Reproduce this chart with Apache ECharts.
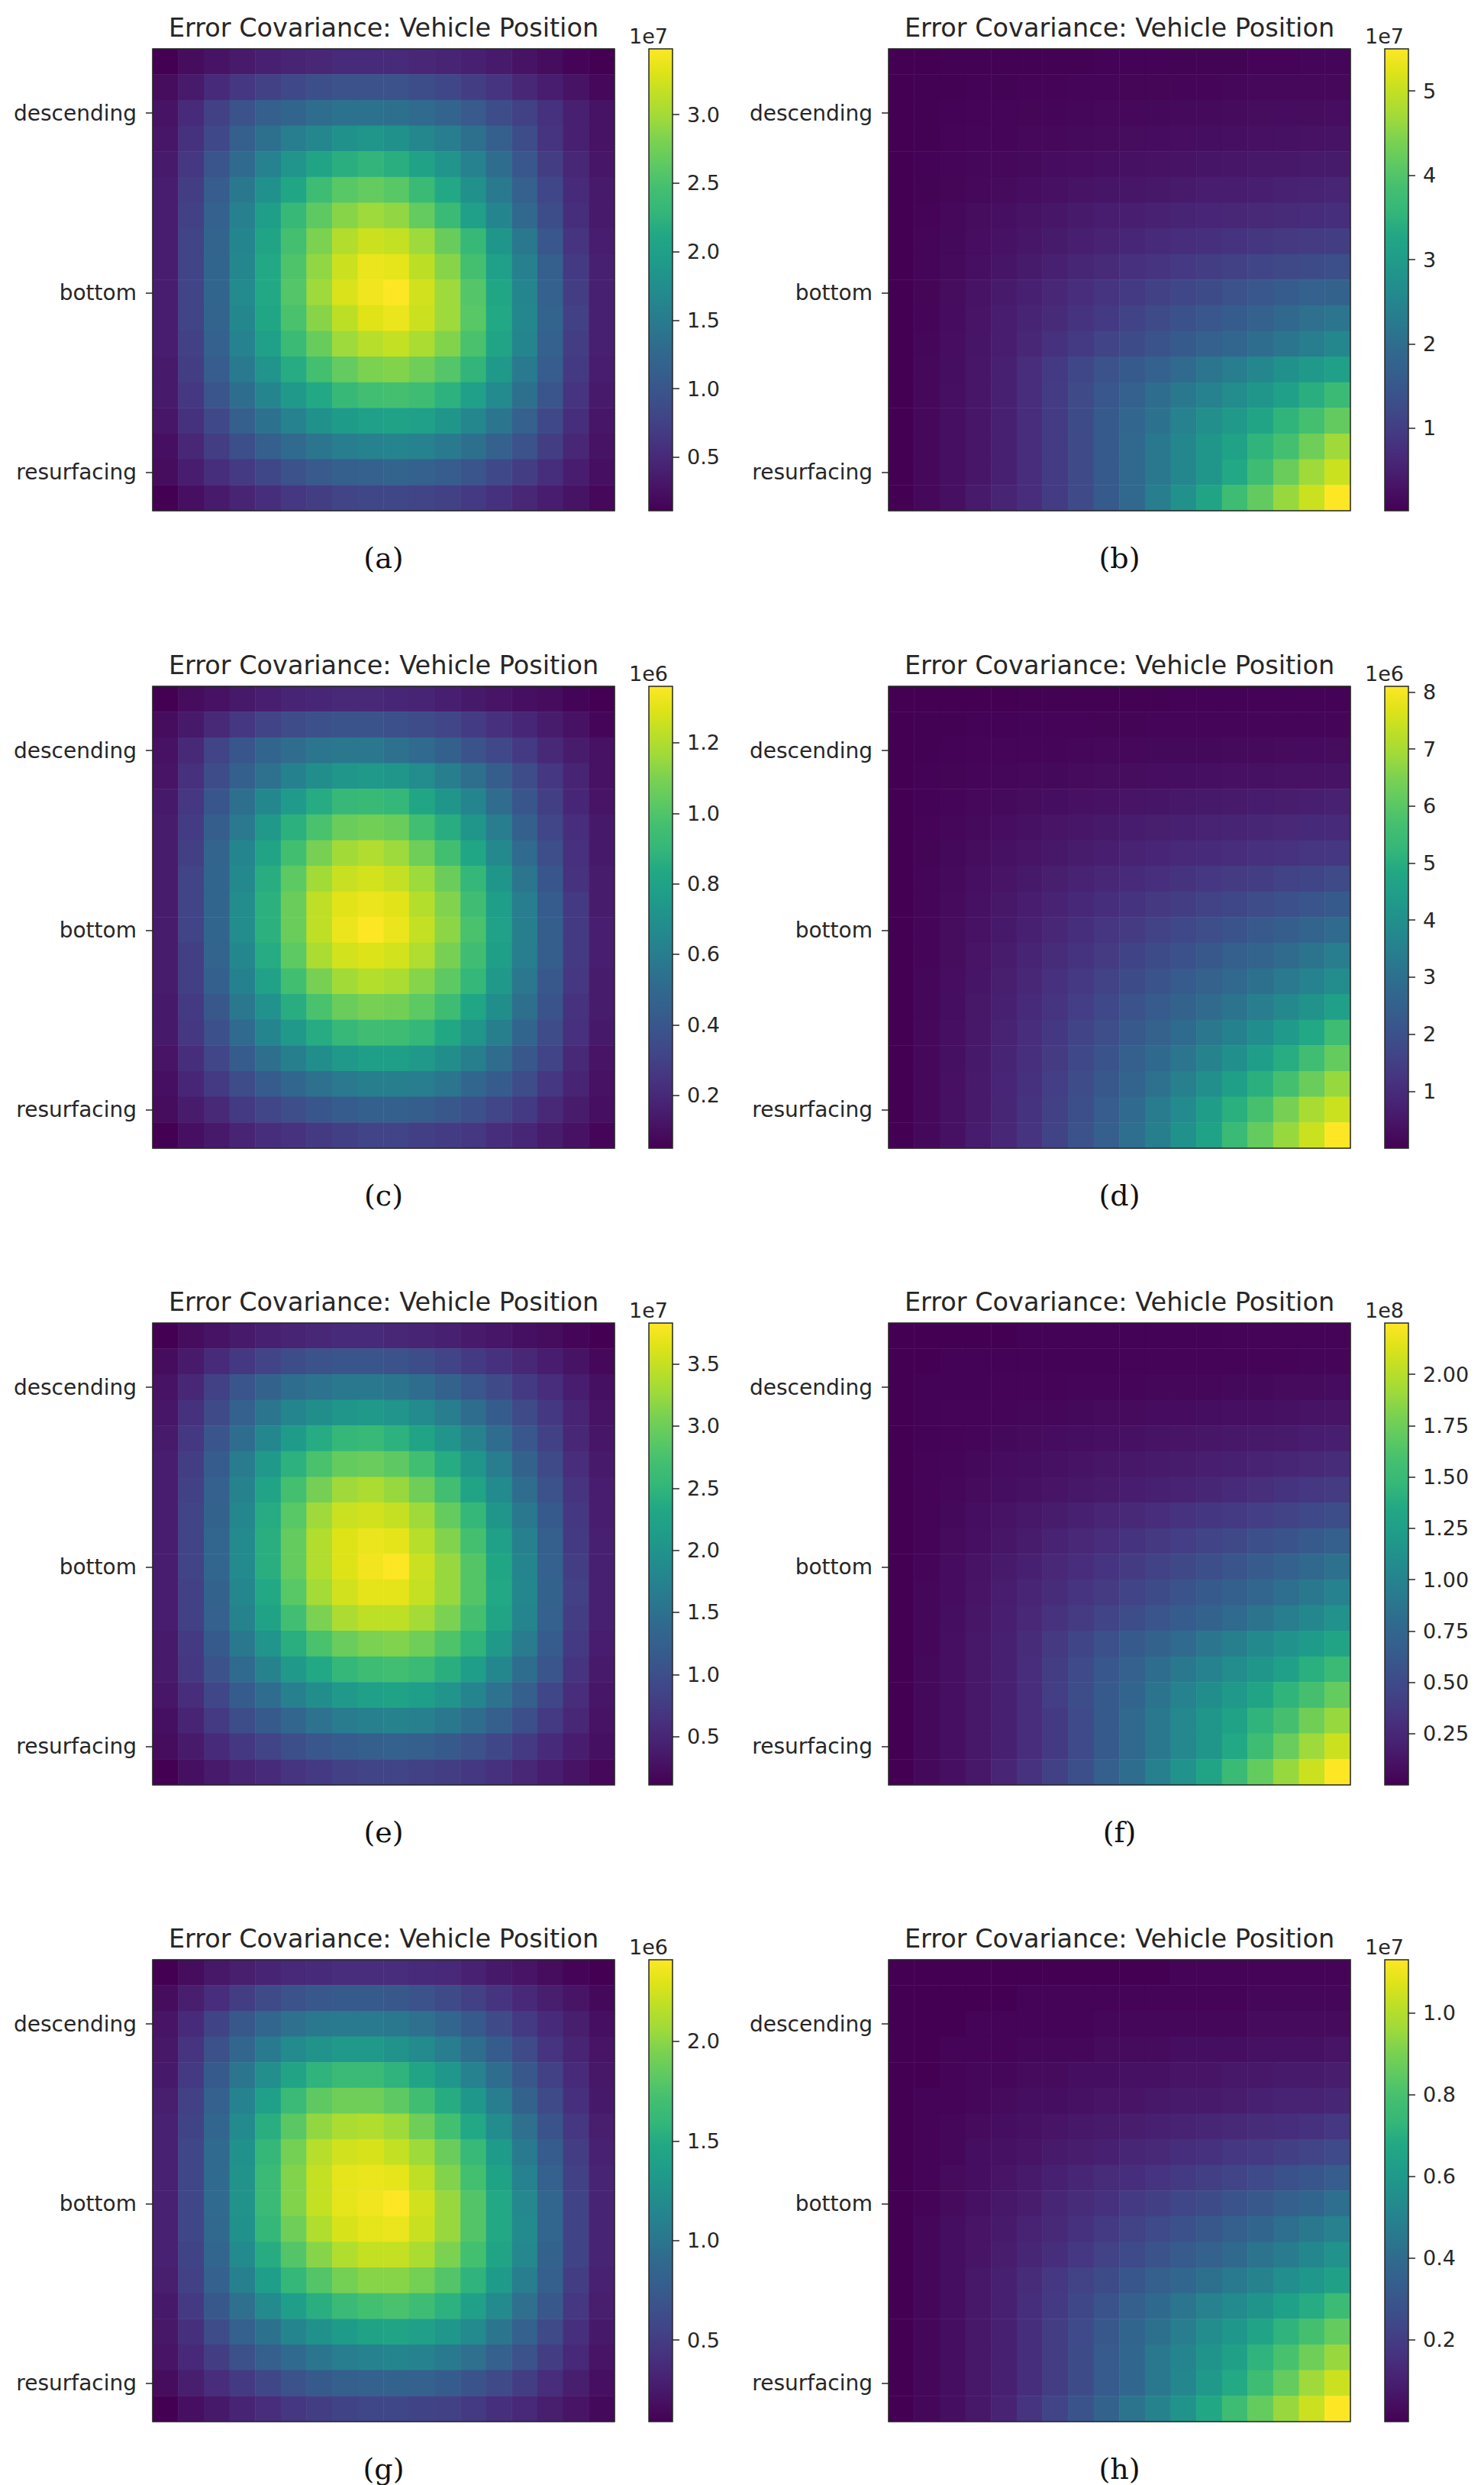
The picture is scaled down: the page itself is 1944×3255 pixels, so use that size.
<!DOCTYPE html>
<html>
<head>
<meta charset="utf-8">
<script src="https://cdn.jsdelivr.net/npm/echarts@6/dist/echarts.min.js"></script>
<style>
html,body{margin:0;padding:0;background:#ffffff;}
#chart{width:1944px;height:3255px;}
</style>
</head>
<body>
<div id="chart"></div>
<script>
// ---------------- data (values in units of the colour-bar exponent) ----------------
const panelTitle = 'Error Covariance: Vehicle Position';
const captions = ['(a)', '(b)', '(c)', '(d)', '(e)', '(f)', '(g)', '(h)'];
const exponents = ['1e7', '1e7', '1e6', '1e6', '1e7', '1e8', '1e6', '1e7'];
const yTickRows = [2, 9, 16];
const yTickLabels = ['descending', 'bottom', 'resurfacing'];

const cbTicksA = ['0.5', '1.0', '1.5', '2.0', '2.5', '3.0'];
const cbTicksB = ['1', '2', '3', '4', '5'];
const cbTicksC = ['0.2', '0.4', '0.6', '0.8', '1.0', '1.2'];
const cbTicksD = ['1', '2', '3', '4', '5', '6', '7', '8'];
const cbTicksE = ['0.5', '1.0', '1.5', '2.0', '2.5', '3.0', '3.5'];
const cbTicksF = ['0.25', '0.50', '0.75', '1.00', '1.25', '1.50', '1.75', '2.00'];
const cbTicksG = ['0.5', '1.0', '1.5', '2.0'];
const cbTicksH = ['0.2', '0.4', '0.6', '0.8', '1.0'];

const covA = [
[0.11,0.21,0.28,0.35,0.41,0.45,0.48,0.51,0.51,0.51,0.48,0.45,0.41,0.35,0.28,0.21,0.14,0.11],
[0.21,0.35,0.51,0.65,0.75,0.85,0.92,0.95,0.95,0.95,0.89,0.82,0.72,0.62,0.48,0.38,0.28,0.18],
[0.28,0.51,0.75,0.95,1.12,1.22,1.32,1.39,1.39,1.36,1.29,1.19,1.05,0.89,0.75,0.58,0.41,0.28],
[0.31,0.58,0.85,1.12,1.36,1.53,1.66,1.80,1.86,1.80,1.66,1.53,1.36,1.12,0.89,0.62,0.41,0.28],
[0.35,0.65,0.99,1.29,1.59,1.83,2.06,2.20,2.27,2.20,2.03,1.83,1.59,1.32,1.02,0.72,0.48,0.31],
[0.38,0.72,1.09,1.46,1.80,2.10,2.40,2.60,2.67,2.60,2.37,2.13,1.80,1.49,1.15,0.82,0.51,0.35],
[0.38,0.75,1.15,1.56,1.96,2.33,2.64,2.87,2.97,2.91,2.67,2.37,2.00,1.63,1.26,0.89,0.55,0.35],
[0.38,0.78,1.19,1.63,2.06,2.47,2.81,3.08,3.21,3.18,2.97,2.70,2.33,1.86,1.46,1.02,0.62,0.38],
[0.38,0.78,1.22,1.66,2.13,2.54,2.91,3.21,3.38,3.35,3.14,2.87,2.47,2.00,1.56,1.12,0.68,0.41],
[0.38,0.78,1.22,1.69,2.13,2.57,2.97,3.28,3.41,3.48,3.24,2.97,2.57,2.10,1.63,1.15,0.72,0.41],
[0.38,0.78,1.19,1.66,2.10,2.50,2.87,3.14,3.31,3.38,3.21,2.97,2.60,2.13,1.66,1.19,0.75,0.41],
[0.38,0.75,1.15,1.59,2.00,2.37,2.70,2.97,3.11,3.18,3.04,2.84,2.50,2.06,1.63,1.15,0.72,0.41],
[0.35,0.72,1.09,1.49,1.83,2.17,2.47,2.67,2.81,2.84,2.74,2.57,2.27,1.90,1.49,1.09,0.68,0.38],
[0.35,0.65,0.99,1.32,1.63,1.90,2.13,2.33,2.44,2.47,2.40,2.23,2.00,1.69,1.36,0.99,0.62,0.35],
[0.31,0.58,0.85,1.12,1.39,1.59,1.80,1.93,2.00,2.03,2.00,1.86,1.66,1.42,1.15,0.85,0.55,0.31],
[0.24,0.48,0.72,0.92,1.12,1.29,1.42,1.53,1.59,1.63,1.59,1.49,1.36,1.15,0.95,0.72,0.48,0.28],
[0.21,0.38,0.55,0.68,0.82,0.95,1.05,1.12,1.15,1.19,1.15,1.09,0.99,0.85,0.72,0.55,0.38,0.24],
[0.11,0.24,0.35,0.45,0.55,0.65,0.72,0.78,0.82,0.82,0.78,0.75,0.68,0.58,0.48,0.38,0.28,0.18]
];

const covB = [
[0.02,0.02,0.03,0.03,0.03,0.04,0.04,0.04,0.05,0.05,0.05,0.06,0.06,0.06,0.07,0.07,0.08,0.08],
[0.02,0.03,0.04,0.05,0.06,0.07,0.07,0.08,0.08,0.09,0.09,0.10,0.10,0.11,0.12,0.12,0.13,0.13],
[0.02,0.04,0.05,0.07,0.08,0.09,0.10,0.11,0.12,0.13,0.14,0.15,0.16,0.17,0.18,0.19,0.20,0.21],
[0.02,0.04,0.07,0.08,0.10,0.12,0.13,0.15,0.17,0.18,0.19,0.21,0.22,0.24,0.25,0.26,0.28,0.29],
[0.02,0.05,0.08,0.11,0.13,0.16,0.19,0.21,0.24,0.26,0.28,0.30,0.32,0.34,0.36,0.38,0.40,0.42],
[0.02,0.06,0.09,0.13,0.17,0.21,0.25,0.29,0.32,0.35,0.38,0.41,0.44,0.46,0.49,0.52,0.55,0.58],
[0.02,0.07,0.13,0.18,0.24,0.29,0.35,0.40,0.44,0.48,0.52,0.56,0.59,0.62,0.65,0.68,0.71,0.74],
[0.02,0.08,0.14,0.21,0.28,0.35,0.42,0.49,0.55,0.61,0.67,0.73,0.78,0.83,0.88,0.92,0.96,1.01],
[0.02,0.08,0.16,0.24,0.33,0.42,0.51,0.60,0.68,0.77,0.85,0.93,1.00,1.07,1.14,1.21,1.28,1.34],
[0.02,0.09,0.18,0.29,0.40,0.51,0.62,0.73,0.84,0.95,1.06,1.17,1.28,1.39,1.50,1.61,1.72,1.77],
[0.02,0.10,0.19,0.31,0.44,0.57,0.68,0.82,0.95,1.10,1.23,1.37,1.50,1.61,1.72,1.88,2.05,2.16],
[0.02,0.11,0.21,0.33,0.46,0.62,0.79,0.95,1.12,1.28,1.44,1.55,1.72,1.83,1.99,2.16,2.32,2.54],
[0.02,0.12,0.22,0.35,0.51,0.73,0.95,1.17,1.39,1.55,1.72,1.94,2.16,2.32,2.54,2.76,2.92,3.09],
[0.02,0.12,0.23,0.35,0.51,0.73,0.98,1.23,1.50,1.72,1.99,2.21,2.43,2.65,2.87,3.09,3.42,3.69],
[0.02,0.13,0.24,0.35,0.51,0.73,0.98,1.28,1.55,1.83,2.10,2.43,2.71,2.92,3.20,3.53,3.86,4.18],
[0.02,0.13,0.24,0.35,0.51,0.73,0.98,1.23,1.55,1.88,2.21,2.54,2.87,3.14,3.53,3.86,4.29,4.68],
[0.02,0.13,0.24,0.35,0.51,0.73,0.98,1.23,1.55,1.88,2.21,2.54,2.87,3.31,3.75,4.24,4.68,5.06],
[0.02,0.13,0.24,0.40,0.57,0.73,0.98,1.23,1.55,1.88,2.32,2.76,3.20,3.75,4.18,4.62,5.06,5.50]
];

const covC = [
[0.05,0.09,0.11,0.14,0.16,0.18,0.19,0.20,0.20,0.19,0.18,0.16,0.14,0.12,0.10,0.09,0.06,0.05],
[0.09,0.14,0.20,0.26,0.31,0.35,0.37,0.39,0.39,0.37,0.35,0.32,0.28,0.23,0.19,0.15,0.11,0.07],
[0.11,0.20,0.31,0.40,0.48,0.52,0.56,0.57,0.57,0.54,0.51,0.45,0.39,0.33,0.27,0.20,0.15,0.11],
[0.12,0.23,0.35,0.45,0.54,0.62,0.69,0.73,0.74,0.73,0.68,0.61,0.53,0.44,0.35,0.26,0.18,0.11],
[0.14,0.26,0.40,0.53,0.65,0.75,0.85,0.91,0.92,0.90,0.82,0.73,0.64,0.52,0.40,0.29,0.19,0.12],
[0.15,0.28,0.44,0.58,0.74,0.87,0.98,1.06,1.08,1.06,0.96,0.86,0.73,0.60,0.45,0.32,0.22,0.14],
[0.15,0.29,0.47,0.64,0.81,0.96,1.09,1.17,1.20,1.16,1.07,0.96,0.82,0.66,0.51,0.36,0.23,0.14],
[0.15,0.31,0.48,0.66,0.86,1.03,1.17,1.25,1.27,1.24,1.16,1.06,0.90,0.73,0.56,0.40,0.24,0.15],
[0.15,0.31,0.48,0.68,0.87,1.06,1.23,1.30,1.32,1.30,1.21,1.11,0.95,0.77,0.60,0.43,0.27,0.15],
[0.15,0.31,0.48,0.68,0.87,1.06,1.23,1.32,1.36,1.32,1.24,1.13,0.98,0.79,0.61,0.44,0.27,0.16],
[0.15,0.29,0.47,0.65,0.85,1.03,1.19,1.27,1.29,1.27,1.20,1.09,0.95,0.78,0.60,0.44,0.27,0.16],
[0.15,0.29,0.45,0.62,0.79,0.96,1.09,1.17,1.21,1.19,1.12,1.03,0.90,0.74,0.57,0.41,0.26,0.15],
[0.14,0.27,0.41,0.57,0.71,0.86,0.98,1.06,1.09,1.08,1.03,0.94,0.82,0.69,0.53,0.39,0.24,0.15],
[0.14,0.26,0.37,0.51,0.64,0.74,0.85,0.91,0.95,0.94,0.90,0.83,0.73,0.61,0.48,0.35,0.23,0.14],
[0.12,0.22,0.32,0.43,0.53,0.61,0.69,0.74,0.78,0.78,0.74,0.69,0.61,0.52,0.41,0.31,0.20,0.12],
[0.10,0.19,0.27,0.35,0.43,0.49,0.54,0.58,0.61,0.61,0.60,0.56,0.49,0.43,0.35,0.26,0.18,0.11],
[0.09,0.15,0.20,0.27,0.32,0.36,0.40,0.43,0.45,0.45,0.44,0.41,0.37,0.32,0.27,0.20,0.15,0.10],
[0.05,0.10,0.14,0.18,0.22,0.24,0.27,0.29,0.31,0.31,0.29,0.28,0.26,0.22,0.19,0.15,0.11,0.07]
];

const covD = [
[0.00,0.01,0.01,0.01,0.01,0.02,0.02,0.02,0.03,0.03,0.03,0.04,0.04,0.04,0.04,0.05,0.05,0.05],
[0.00,0.02,0.03,0.04,0.05,0.06,0.07,0.07,0.08,0.08,0.09,0.09,0.10,0.10,0.11,0.11,0.12,0.12],
[0.00,0.03,0.05,0.07,0.09,0.11,0.12,0.13,0.15,0.16,0.17,0.18,0.19,0.20,0.21,0.22,0.23,0.24],
[0.00,0.04,0.08,0.10,0.14,0.16,0.19,0.22,0.24,0.26,0.28,0.30,0.32,0.34,0.36,0.37,0.39,0.41],
[0.00,0.05,0.10,0.15,0.20,0.25,0.30,0.34,0.38,0.42,0.46,0.50,0.54,0.57,0.60,0.64,0.68,0.73],
[0.00,0.07,0.14,0.21,0.28,0.35,0.42,0.48,0.54,0.60,0.66,0.72,0.77,0.82,0.86,0.90,0.94,0.97],
[0.00,0.08,0.17,0.26,0.35,0.44,0.53,0.61,0.69,0.77,0.84,0.91,0.98,1.05,1.11,1.17,1.23,1.30],
[0.00,0.09,0.20,0.31,0.42,0.54,0.66,0.77,0.88,0.99,1.09,1.19,1.29,1.38,1.47,1.56,1.66,1.78],
[0.00,0.10,0.22,0.35,0.49,0.63,0.78,0.92,1.06,1.20,1.33,1.46,1.59,1.72,1.85,1.98,2.12,2.27],
[0.00,0.11,0.24,0.39,0.55,0.72,0.89,1.06,1.23,1.40,1.57,1.74,1.90,2.06,2.23,2.40,2.60,2.84],
[0.00,0.12,0.26,0.43,0.61,0.80,1.00,1.20,1.40,1.60,1.81,2.01,2.21,2.42,2.63,2.86,3.12,3.40],
[0.00,0.13,0.28,0.46,0.66,0.88,1.11,1.34,1.57,1.81,2.05,2.29,2.53,2.77,3.01,3.27,3.56,3.89],
[0.00,0.14,0.30,0.49,0.71,0.96,1.22,1.48,1.75,2.02,2.29,2.57,2.85,3.13,3.43,3.75,4.12,4.54],
[0.00,0.15,0.32,0.52,0.76,1.03,1.32,1.61,1.92,2.23,2.55,2.87,3.20,3.53,3.90,4.33,4.86,5.51],
[0.00,0.16,0.33,0.55,0.80,1.09,1.40,1.73,2.07,2.43,2.80,3.18,3.58,4.00,4.46,4.98,5.56,6.16],
[0.00,0.16,0.34,0.57,0.83,1.14,1.48,1.84,2.22,2.62,3.05,3.50,3.98,4.50,5.06,5.67,6.24,6.80],
[0.00,0.16,0.35,0.58,0.86,1.18,1.54,1.94,2.37,2.83,3.32,3.85,4.42,5.04,5.72,6.44,7.02,7.45],
[0.00,0.17,0.36,0.60,0.89,1.22,1.60,2.02,2.47,2.95,3.45,4.05,4.62,5.43,6.16,6.80,7.45,8.10]
];

const covE = [
[0.11,0.22,0.30,0.37,0.44,0.48,0.52,0.56,0.56,0.52,0.48,0.44,0.37,0.33,0.26,0.22,0.15,0.11],
[0.22,0.37,0.56,0.71,0.85,0.97,1.04,1.08,1.08,1.04,0.97,0.85,0.74,0.63,0.52,0.41,0.30,0.18],
[0.30,0.52,0.82,1.08,1.30,1.45,1.52,1.60,1.60,1.56,1.45,1.30,1.11,0.93,0.74,0.59,0.41,0.26],
[0.33,0.63,0.93,1.26,1.56,1.78,1.93,2.04,2.08,2.01,1.86,1.67,1.45,1.19,0.93,0.71,0.48,0.30],
[0.37,0.71,1.08,1.45,1.82,2.12,2.38,2.53,2.57,2.45,2.27,2.01,1.75,1.45,1.11,0.82,0.52,0.33],
[0.41,0.78,1.19,1.64,2.08,2.45,2.75,2.94,2.97,2.90,2.68,2.38,2.04,1.67,1.30,0.93,0.59,0.37],
[0.41,0.82,1.26,1.75,2.27,2.71,3.05,3.27,3.35,3.23,3.01,2.68,2.27,1.86,1.45,1.04,0.67,0.41],
[0.41,0.85,1.30,1.82,2.38,2.86,3.27,3.53,3.57,3.50,3.27,2.94,2.53,2.04,1.60,1.15,0.71,0.41],
[0.41,0.85,1.34,1.86,2.42,2.94,3.38,3.64,3.72,3.68,3.42,3.12,2.71,2.19,1.71,1.23,0.74,0.44],
[0.41,0.85,1.34,1.86,2.42,2.94,3.38,3.64,3.76,3.83,3.53,3.23,2.83,2.30,1.78,1.26,0.78,0.44],
[0.41,0.82,1.30,1.82,2.34,2.86,3.31,3.57,3.68,3.68,3.50,3.23,2.83,2.34,1.82,1.30,0.82,0.44],
[0.41,0.82,1.26,1.75,2.23,2.68,3.09,3.35,3.46,3.46,3.31,3.09,2.71,2.27,1.78,1.26,0.78,0.44],
[0.37,0.74,1.15,1.60,2.01,2.42,2.75,2.97,3.09,3.12,3.01,2.79,2.49,2.08,1.64,1.19,0.74,0.41],
[0.37,0.71,1.04,1.41,1.75,2.08,2.34,2.53,2.64,2.68,2.60,2.42,2.16,1.82,1.45,1.08,0.67,0.37],
[0.33,0.59,0.89,1.19,1.45,1.71,1.93,2.08,2.19,2.23,2.16,2.01,1.78,1.52,1.23,0.89,0.59,0.33],
[0.26,0.48,0.74,0.97,1.15,1.34,1.52,1.64,1.71,1.75,1.71,1.60,1.45,1.23,1.00,0.74,0.52,0.30],
[0.22,0.37,0.56,0.71,0.85,1.00,1.11,1.19,1.23,1.26,1.23,1.15,1.04,0.89,0.74,0.56,0.41,0.26],
[0.11,0.26,0.37,0.48,0.56,0.67,0.74,0.82,0.85,0.85,0.82,0.78,0.71,0.63,0.52,0.41,0.30,0.18]
];

const covF = [
[0.00,0.00,0.00,0.00,0.00,0.01,0.01,0.01,0.01,0.01,0.01,0.01,0.01,0.02,0.02,0.02,0.02,0.02],
[0.00,0.00,0.01,0.01,0.01,0.01,0.01,0.01,0.01,0.02,0.02,0.02,0.02,0.02,0.02,0.02,0.03,0.03],
[0.00,0.01,0.01,0.01,0.02,0.02,0.02,0.03,0.03,0.03,0.04,0.04,0.04,0.05,0.05,0.06,0.06,0.07],
[0.00,0.01,0.02,0.02,0.03,0.04,0.04,0.05,0.06,0.06,0.07,0.07,0.08,0.09,0.09,0.10,0.11,0.12],
[0.00,0.01,0.02,0.03,0.05,0.06,0.07,0.08,0.09,0.10,0.11,0.12,0.13,0.14,0.15,0.16,0.18,0.19],
[0.00,0.02,0.03,0.05,0.07,0.08,0.10,0.11,0.13,0.14,0.16,0.17,0.19,0.20,0.22,0.24,0.26,0.28],
[0.00,0.02,0.04,0.06,0.08,0.10,0.12,0.14,0.16,0.18,0.20,0.22,0.24,0.27,0.30,0.33,0.36,0.39],
[0.00,0.02,0.05,0.08,0.11,0.14,0.17,0.20,0.23,0.26,0.29,0.32,0.35,0.38,0.41,0.44,0.48,0.52],
[0.00,0.02,0.06,0.09,0.13,0.17,0.21,0.25,0.29,0.33,0.37,0.41,0.45,0.49,0.54,0.58,0.63,0.68],
[0.00,0.03,0.07,0.11,0.16,0.20,0.25,0.29,0.34,0.39,0.44,0.49,0.54,0.59,0.64,0.70,0.77,0.84],
[0.00,0.04,0.07,0.12,0.18,0.23,0.28,0.34,0.39,0.45,0.51,0.57,0.63,0.69,0.75,0.82,0.90,0.99],
[0.00,0.04,0.08,0.13,0.19,0.25,0.32,0.39,0.45,0.52,0.59,0.65,0.72,0.79,0.86,0.94,1.03,1.13],
[0.00,0.04,0.09,0.14,0.20,0.28,0.37,0.46,0.55,0.63,0.71,0.79,0.88,0.96,1.05,1.14,1.22,1.31],
[0.00,0.05,0.09,0.14,0.20,0.29,0.40,0.50,0.61,0.70,0.81,0.90,0.99,1.08,1.17,1.26,1.40,1.51],
[0.00,0.05,0.09,0.14,0.20,0.29,0.41,0.52,0.63,0.74,0.86,0.99,1.10,1.19,1.31,1.44,1.58,1.71],
[0.00,0.05,0.09,0.14,0.20,0.29,0.38,0.50,0.63,0.77,0.90,1.04,1.17,1.28,1.44,1.58,1.76,1.89],
[0.00,0.05,0.09,0.14,0.20,0.29,0.38,0.50,0.63,0.77,0.90,1.04,1.17,1.35,1.53,1.73,1.91,2.07],
[0.00,0.05,0.09,0.14,0.23,0.32,0.43,0.54,0.68,0.81,0.97,1.13,1.31,1.51,1.71,1.89,2.07,2.25]
];

const covG = [
[0.09,0.16,0.23,0.28,0.32,0.35,0.37,0.39,0.39,0.39,0.37,0.35,0.30,0.25,0.21,0.16,0.11,0.09],
[0.16,0.28,0.39,0.51,0.60,0.67,0.72,0.74,0.74,0.72,0.67,0.60,0.53,0.44,0.35,0.28,0.21,0.14],
[0.21,0.37,0.55,0.72,0.86,0.95,1.02,1.04,1.04,1.02,0.95,0.86,0.74,0.60,0.48,0.37,0.28,0.18],
[0.23,0.44,0.65,0.86,1.04,1.18,1.27,1.32,1.32,1.27,1.18,1.06,0.93,0.76,0.60,0.44,0.32,0.21],
[0.25,0.48,0.74,1.00,1.23,1.44,1.57,1.64,1.64,1.57,1.44,1.30,1.11,0.93,0.72,0.53,0.37,0.23],
[0.28,0.53,0.81,1.11,1.39,1.64,1.83,1.90,1.90,1.83,1.69,1.51,1.30,1.06,0.83,0.60,0.41,0.25],
[0.30,0.55,0.86,1.18,1.53,1.81,2.02,2.11,2.13,2.06,1.90,1.71,1.48,1.20,0.95,0.69,0.46,0.28],
[0.30,0.58,0.90,1.25,1.60,1.92,2.15,2.25,2.27,2.20,2.06,1.88,1.62,1.34,1.04,0.76,0.51,0.30],
[0.30,0.58,0.90,1.27,1.64,1.97,2.20,2.32,2.34,2.32,2.18,1.97,1.71,1.41,1.11,0.81,0.53,0.32],
[0.30,0.58,0.90,1.27,1.64,1.97,2.20,2.32,2.36,2.41,2.25,2.04,1.78,1.48,1.16,0.86,0.55,0.32],
[0.30,0.58,0.88,1.25,1.60,1.90,2.13,2.27,2.32,2.34,2.22,2.04,1.78,1.48,1.18,0.86,0.55,0.32],
[0.30,0.55,0.86,1.18,1.51,1.78,1.99,2.13,2.20,2.20,2.11,1.95,1.71,1.44,1.16,0.83,0.55,0.32],
[0.28,0.53,0.81,1.09,1.37,1.60,1.78,1.92,1.99,1.99,1.92,1.78,1.57,1.34,1.06,0.79,0.51,0.30],
[0.25,0.48,0.72,0.95,1.18,1.37,1.53,1.64,1.71,1.74,1.67,1.55,1.39,1.18,0.95,0.72,0.46,0.28],
[0.23,0.41,0.62,0.81,0.97,1.13,1.25,1.34,1.41,1.44,1.39,1.30,1.18,1.00,0.81,0.60,0.41,0.25],
[0.21,0.35,0.51,0.65,0.79,0.90,1.00,1.06,1.11,1.13,1.11,1.04,0.95,0.81,0.67,0.51,0.35,0.21],
[0.16,0.28,0.39,0.48,0.58,0.67,0.74,0.79,0.81,0.83,0.81,0.76,0.69,0.60,0.51,0.39,0.28,0.18],
[0.09,0.18,0.25,0.32,0.39,0.46,0.51,0.55,0.58,0.58,0.55,0.53,0.48,0.41,0.35,0.28,0.21,0.14]
];

const covH = [
[0.00,0.00,0.00,0.00,0.00,0.00,0.00,0.00,0.00,0.00,0.00,0.01,0.01,0.01,0.01,0.01,0.01,0.01],
[0.00,0.00,0.00,0.00,0.00,0.01,0.01,0.01,0.01,0.01,0.01,0.01,0.01,0.01,0.02,0.02,0.02,0.02],
[0.00,0.00,0.00,0.01,0.01,0.01,0.01,0.01,0.02,0.02,0.02,0.02,0.02,0.02,0.03,0.03,0.03,0.03],
[0.00,0.00,0.01,0.01,0.01,0.02,0.02,0.02,0.03,0.03,0.03,0.04,0.04,0.04,0.05,0.05,0.05,0.06],
[0.00,0.00,0.01,0.02,0.02,0.03,0.03,0.04,0.04,0.05,0.05,0.06,0.06,0.07,0.07,0.08,0.08,0.09],
[0.00,0.01,0.01,0.02,0.03,0.04,0.04,0.05,0.06,0.06,0.07,0.08,0.08,0.09,0.10,0.11,0.11,0.12],
[0.00,0.01,0.02,0.03,0.04,0.05,0.06,0.07,0.08,0.09,0.10,0.11,0.12,0.13,0.14,0.15,0.16,0.18],
[0.00,0.01,0.02,0.04,0.05,0.06,0.08,0.09,0.10,0.12,0.13,0.15,0.16,0.18,0.19,0.21,0.23,0.25],
[0.00,0.01,0.03,0.04,0.06,0.08,0.10,0.12,0.14,0.15,0.17,0.19,0.21,0.23,0.25,0.28,0.30,0.33],
[0.00,0.01,0.03,0.05,0.07,0.09,0.12,0.14,0.16,0.19,0.21,0.24,0.26,0.29,0.31,0.34,0.37,0.41],
[0.00,0.02,0.04,0.06,0.08,0.11,0.13,0.16,0.19,0.22,0.25,0.28,0.31,0.34,0.37,0.41,0.45,0.49],
[0.00,0.02,0.04,0.06,0.09,0.12,0.15,0.18,0.22,0.25,0.29,0.32,0.35,0.39,0.43,0.47,0.52,0.57],
[0.00,0.02,0.04,0.07,0.10,0.14,0.18,0.22,0.26,0.30,0.34,0.38,0.42,0.46,0.50,0.55,0.59,0.64],
[0.00,0.02,0.04,0.07,0.10,0.15,0.19,0.24,0.29,0.34,0.39,0.44,0.49,0.53,0.58,0.63,0.69,0.76],
[0.00,0.02,0.04,0.07,0.10,0.15,0.20,0.25,0.31,0.37,0.42,0.48,0.54,0.59,0.65,0.72,0.79,0.86],
[0.00,0.02,0.04,0.07,0.10,0.15,0.20,0.26,0.32,0.38,0.45,0.51,0.58,0.64,0.72,0.80,0.88,0.95],
[0.00,0.02,0.04,0.07,0.10,0.15,0.20,0.26,0.32,0.38,0.45,0.52,0.60,0.68,0.77,0.86,0.96,1.04],
[0.00,0.02,0.04,0.07,0.11,0.17,0.23,0.29,0.36,0.43,0.50,0.58,0.67,0.77,0.86,0.95,1.04,1.13]
];

// ---------------- styling / layout ----------------
const VIRIDIS = ['#440154','#471365','#482475','#463480','#414487','#3b528b','#355f8d','#306a8e',
  '#2a788e','#25858e','#21918c','#1f9e89','#22a884','#35b779','#44bf70','#5ec962',
  '#7ad151','#9fda3a','#bddf26','#dfe318','#fde725'];
const TEXT = '#262626';
const SANS = 'DejaVu Sans';
const SERIF = 'DejaVu Serif';
const PLOT_LEFT = [200, 1164];
const PLOT_TOP = [64, 899, 1733, 2567];
const PLOT_W = 605, PLOT_H = 605;
const CB_GAP = 45, CB_W = 31;

const covs = [covA, covB, covC, covD, covE, covF, covG, covH];
const cbTicks = [cbTicksA, cbTicksB, cbTicksC, cbTicksD, cbTicksE, cbTicksF, cbTicksG, cbTicksH];

const grid = [], xAxis = [], yAxis = [], series = [], visualMap = [], graphic = [];
const isTickRow = (idx) => yTickRows.indexOf(idx) >= 0;

covs.forEach((cov, k) => {
  const col = k % 2, row = Math.floor(k / 2);
  const left = PLOT_LEFT[col], top = PLOT_TOP[row];
  const nRows = cov.length, nCols = cov[0].length;
  const flat = [].concat(...cov);
  const vmin = Math.min(...flat), vmax = Math.max(...flat);
  const cells = [];
  cov.forEach((r, i) => r.forEach((v, j) => cells.push([j, i, v])));
  const colCats = Array.from({length: nCols}, (_, j) => String(j));
  const rowCats = Array.from({length: nRows}, (_, i) => String(i));

  // heat map
  grid.push({left: left, top: top, width: PLOT_W, height: PLOT_H, show: true,
    backgroundColor: 'transparent', borderColor: TEXT, borderWidth: 1.5, z: 5});
  const gHeat = grid.length - 1;
  xAxis.push({type: 'category', gridIndex: gHeat, data: colCats, show: false});
  yAxis.push({type: 'category', gridIndex: gHeat, data: rowCats, inverse: true,
    axisLine: {show: false},
    axisTick: {show: true, alignWithLabel: true, interval: isTickRow, length: 9,
      lineStyle: {color: TEXT, width: 1.5}},
    axisLabel: {show: true, interval: isTickRow, margin: 21, fontSize: 28, fontFamily: SANS, color: TEXT,
      formatter: (val) => { const p = yTickRows.indexOf(Number(val)); return p >= 0 ? yTickLabels[p] : ''; }},
    splitLine: {show: false}});
  series.push({type: 'heatmap', name: captions[k], xAxisIndex: xAxis.length - 1, yAxisIndex: yAxis.length - 1,
    data: cells, label: {show: false}, itemStyle: {borderWidth: 0}, emphasis: {disabled: true}, progressive: 0});
  visualMap.push({type: 'continuous', show: false, seriesIndex: series.length - 1, dimension: 2,
    min: vmin, max: vmax, inRange: {color: VIRIDIS}});

  // colour bar
  const tickStr = cbTicks[k];
  const tickVals = tickStr.map(Number);
  grid.push({left: left + PLOT_W + CB_GAP, top: top, width: CB_W, height: PLOT_H, show: true,
    backgroundColor: 'transparent', borderColor: TEXT, borderWidth: 1.5, z: 5});
  const gCb = grid.length - 1;
  xAxis.push({type: 'category', gridIndex: gCb, data: ['cb'], show: false});
  yAxis.push({type: 'value', gridIndex: gCb, position: 'right', min: vmin, max: vmax,
    name: exponents[k], nameLocation: 'end', nameGap: 3,
    nameTextStyle: {fontSize: 27, fontFamily: SANS, color: TEXT, align: 'right', padding: [0, 6, 0, 0]},
    axisLine: {show: false},
    axisTick: {show: true, inside: false, length: 9, customValues: tickVals, lineStyle: {color: TEXT, width: 1.5}},
    axisLabel: {show: true, customValues: tickVals, margin: 19, fontSize: 27, fontFamily: SANS, color: TEXT,
      formatter: (v) => { let best = 0; tickVals.forEach((t, i) => { if (Math.abs(t - v) < Math.abs(tickVals[best] - v)) best = i; }); return tickStr[best]; }},
    splitLine: {show: false}});
  series.push({type: 'custom', xAxisIndex: xAxis.length - 1, yAxisIndex: yAxis.length - 1, silent: true,
    data: [[0, vmin, vmax]], encode: {x: 0, y: [1, 2]},
    renderItem: (params, api) => {
      const pTop = api.coord([0, api.value(2)]);
      const pBot = api.coord([0, api.value(1)]);
      const w = api.size([1, 0])[0];
      return {type: 'rect',
        shape: {x: pTop[0] - w / 2, y: pTop[1], width: w, height: pBot[1] - pTop[1]},
        style: {fill: {type: 'linear', x: 0, y: 1, x2: 0, y2: 0,
          colorStops: VIRIDIS.map((c, i) => ({offset: i / (VIRIDIS.length - 1), color: c}))}}};
    }});

  // title and caption (real text)
  graphic.push({type: 'text', x: left + PLOT_W / 2, y: top - 28, silent: true,
    style: {text: panelTitle, fontSize: 33.5, fontFamily: SANS, fill: TEXT,
      align: 'center', verticalAlign: 'middle', textAlign: 'center', textVerticalAlign: 'middle'}});
  graphic.push({type: 'text', x: left + PLOT_W / 2, y: top + PLOT_H + 62, silent: true,
    style: {text: captions[k], fontSize: 38, fontFamily: SERIF, fill: '#111111',
      align: 'center', verticalAlign: 'middle', textAlign: 'center', textVerticalAlign: 'middle'}});
});

const chart = echarts.init(document.getElementById('chart'), null, {renderer: 'svg', width: 1944, height: 3255});
chart.setOption({
  animation: false,
  backgroundColor: '#ffffff',
  textStyle: {fontFamily: SANS},
  grid: grid, xAxis: xAxis, yAxis: yAxis, visualMap: visualMap, series: series, graphic: graphic
});
</script>
</body>
</html>
